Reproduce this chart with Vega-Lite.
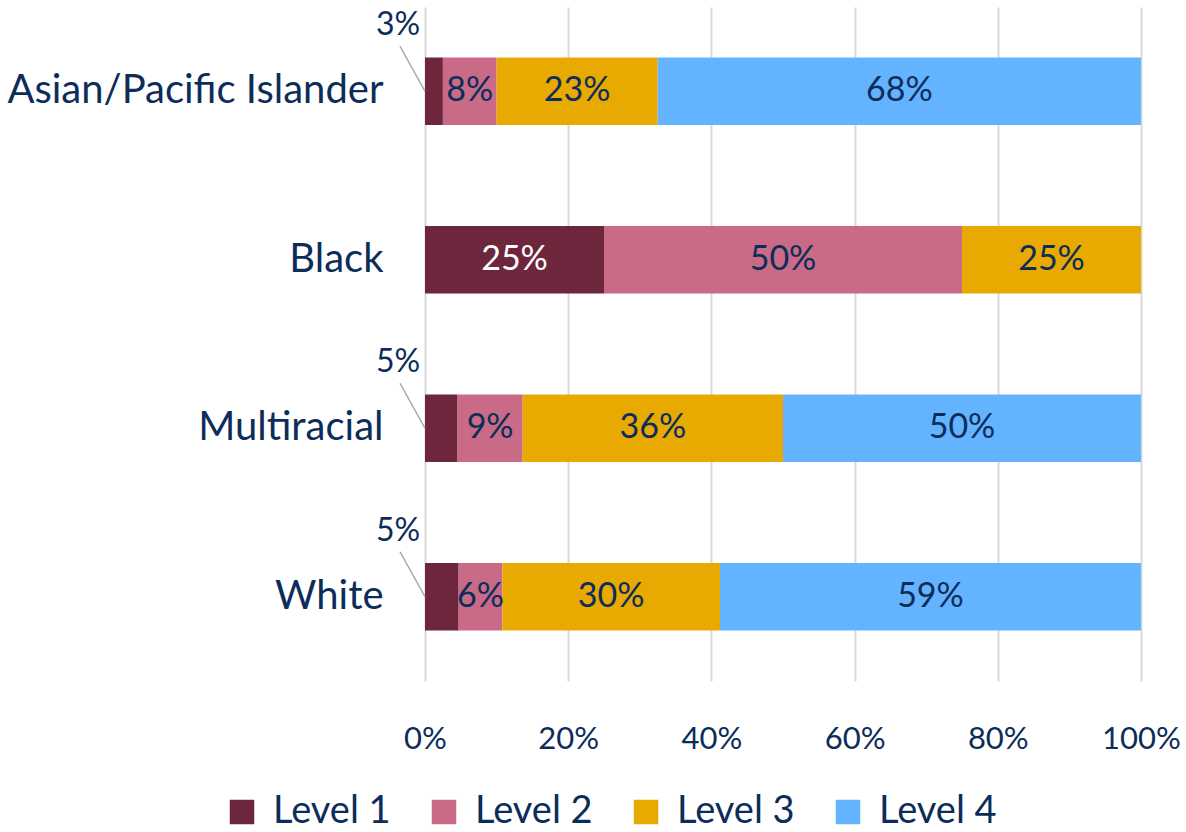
{
  "$schema": "https://vega.github.io/schema/vega-lite/v6.json",
  "width": 716,
  "height": 674,
  "autosize": {"type": "none"},
  "padding": {"left": 425, "top": 7, "right": 45, "bottom": 151},
  "background": "white",
  "config": {
    "font": "Lato",
    "view": {"stroke": null},
    "axis": {"labelFont": "Lato", "labelColor": "#0C2D5A"}
  },
  "data": {
    "values": [
      {"group": "Asian/Pacific Islander", "level": "Level 1", "pct": 2.5, "label": "3%"},
      {"group": "Asian/Pacific Islander", "level": "Level 2", "pct": 7.5, "label": "8%"},
      {"group": "Asian/Pacific Islander", "level": "Level 3", "pct": 22.5, "label": "23%"},
      {"group": "Asian/Pacific Islander", "level": "Level 4", "pct": 67.5, "label": "68%"},
      {"group": "Black", "level": "Level 1", "pct": 25, "label": "25%"},
      {"group": "Black", "level": "Level 2", "pct": 50, "label": "50%"},
      {"group": "Black", "level": "Level 3", "pct": 25, "label": "25%"},
      {"group": "Multiracial", "level": "Level 1", "pct": 4.55, "label": "5%"},
      {"group": "Multiracial", "level": "Level 2", "pct": 9.09, "label": "9%"},
      {"group": "Multiracial", "level": "Level 3", "pct": 36.36, "label": "36%"},
      {"group": "Multiracial", "level": "Level 4", "pct": 50, "label": "50%"},
      {"group": "White", "level": "Level 1", "pct": 4.7, "label": "5%"},
      {"group": "White", "level": "Level 2", "pct": 6.1, "label": "6%"},
      {"group": "White", "level": "Level 3", "pct": 30.4, "label": "30%"},
      {"group": "White", "level": "Level 4", "pct": 58.8, "label": "59%"}
    ]
  },
  "transform": [
    {"stack": "pct", "groupby": ["group"], "sort": [{"field": "level", "order": "ascending"}], "as": ["x0", "x1"], "offset": "zero"},
    {"calculate": "(datum.x0 + datum.x1) / 2", "as": "mid"}
  ],
  "layer": [
    {
      "mark": {"type": "bar"},
      "encoding": {
        "y": {
          "field": "group", "type": "nominal",
          "sort": ["Asian/Pacific Islander", "Black", "Multiracial", "White"],
          "scale": {"paddingInner": 0.6, "paddingOuter": 0.3},
          "axis": {"title": null, "domain": false, "ticks": false, "labelFontSize": 40, "labelPadding": 42, "labelLimit": 500}
        },
        "x": {
          "field": "x0", "type": "quantitative",
          "scale": {"domain": [0, 100], "nice": false},
          "axis": {"title": null, "domain": false, "ticks": false, "values": [0, 20, 40, 60, 80, 100], "labelExpr": "datum.value + '%'", "labelFontSize": 31, "labelPadding": 43, "gridColor": "#D9D9D9", "gridWidth": 2, "labelFlush": false}
        },
        "x2": {"field": "x1"},
        "color": {
          "field": "level", "type": "nominal",
          "scale": {"domain": ["Level 1", "Level 2", "Level 3", "Level 4"], "range": ["#6E263D", "#C96A86", "#E8A900", "#63B3FF"]},
          "legend": {
            "title": null, "orient": "none", "direction": "horizontal", "legendX": -202, "legendY": 786,
            "symbolType": "square", "symbolSize": 600, "symbolStrokeWidth": 0, "symbolOpacity": 1,
            "labelFont": "Lato", "labelFontSize": 38, "labelColor": "#0C2D5A", "labelOffset": 12, "columnPadding": 34, "padding": 0
          }
        }
      }
    },
    {
      "transform": [{"filter": "datum.level != 'Level 1' || datum.pct >= 10"}],
      "mark": {"type": "text", "fontSize": 34, "font": "Lato", "baseline": "middle", "align": "center"},
      "encoding": {
        "y": {"field": "group", "type": "nominal", "sort": ["Asian/Pacific Islander", "Black", "Multiracial", "White"]},
        "x": {"field": "mid", "type": "quantitative"},
        "text": {"field": "label"},
        "color": {"condition": {"test": "datum.level == 'Level 1'", "value": "white"}, "value": "#0C2D5A"}
      }
    },
    {
      "transform": [{"filter": "datum.level == 'Level 1' && datum.pct < 10"}],
      "mark": {"type": "rule", "color": "#A6A6A6", "strokeWidth": 1.5, "x2Offset": -25, "y2Offset": -45},
      "encoding": {
        "y": {"field": "group", "type": "nominal", "sort": ["Asian/Pacific Islander", "Black", "Multiracial", "White"]},
        "y2": {"field": "group"},
        "x": {"field": "x0", "type": "quantitative"},
        "x2": {"field": "x0"}
      }
    },
    {
      "transform": [{"filter": "datum.level == 'Level 1' && datum.pct < 10"}],
      "mark": {"type": "text", "fontSize": 32, "font": "Lato", "baseline": "middle", "align": "center", "dx": -27, "dy": -66, "color": "#0C2D5A"},
      "encoding": {
        "y": {"field": "group", "type": "nominal", "sort": ["Asian/Pacific Islander", "Black", "Multiracial", "White"]},
        "x": {"field": "x0", "type": "quantitative"},
        "text": {"field": "label"}
      }
    }
  ]
}
